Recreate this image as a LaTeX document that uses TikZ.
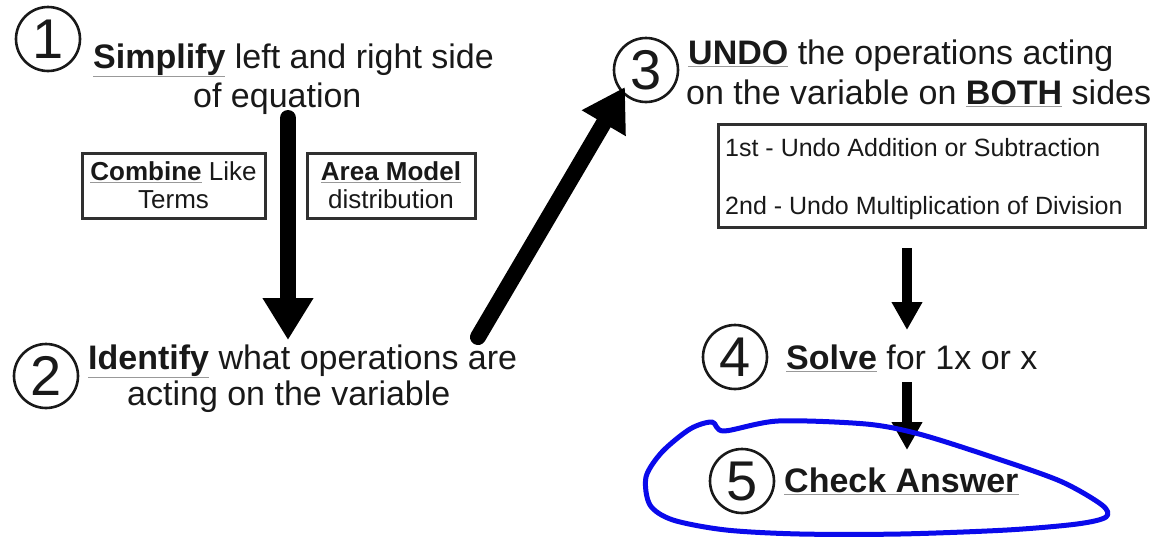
\documentclass[tikz,border=0pt]{standalone}
\usepackage{fontspec}
\setmainfont{Liberation Sans}
\usetikzlibrary{arrows.meta}
\definecolor{pen}{RGB}{10,10,235}
\definecolor{ink}{RGB}{25,25,25}
\newcommand\myul[1]{{\color{black!40}\underline{\color{ink}#1}}}
\begin{document}
\begin{tikzpicture}[x=1pt,y=-1pt,
  num/.style={circle, draw=ink, line width=2.6pt, minimum size=64pt, inner sep=0pt,
    font=\fontsize{56}{56}\selectfont, text=ink},
  big/.style={font=\fontsize{34}{40}\selectfont, anchor=base west, inner sep=0pt, text=ink},
  small/.style={font=\fontsize{25}{28}\selectfont, anchor=base west, inner sep=0pt, text=ink},
  tipbox/.style={draw=ink!90, line width=3pt, inner sep=0pt, align=center,
    font=\fontsize{26}{28}\selectfont, text=ink},
  bigarrow/.style={line width=16pt, line cap=round, draw=black, -{Triangle[width=48pt,length=42pt]}},
  smallarrow/.style={line width=10pt, draw=black, -{Triangle[width=29pt,length=28pt]}}
]
\useasboundingbox (0,0) rectangle (1169,539);

% step 1
\node[num] (c1) at (48,39) {1};
\node[big] (t1a) at (93,68) {\myul{\textbf{Simplify}} left and right side};
\node[big] (t1b) at (193,107) {of equation};
\node[tipbox, minimum width=183pt, minimum height=65pt] (b1) at (173.5,185.5)
  {\myul{\textbf{Combine}} Like\\Terms};
\node[tipbox, minimum width=168pt, minimum height=65pt] (b2) at (391,185.5)
  {\myul{\textbf{Area Model}}\\distribution};

% step 2
\node[num] (c2) at (46,376) {2};
\node[big] (t2a) at (88,369) {\myul{\textbf{Identify}} what operations are};
\node[big] (t2b) at (127,405) {acting on the variable};

% step 3
\node[num] (c3) at (646,70) {3};
\node[big] (t3a) at (688,64) {\myul{\textbf{UNDO}} the operations acting};
\node[big] (t3b) at (686,104) {on the variable on \myul{\textbf{BOTH}} sides};
\node[draw=ink!90, line width=3pt, minimum width=427pt, minimum height=103pt, inner sep=0pt]
  (b3) at (931.5,175.5) {};
\node[small] (t3c) at (725,156) {1st - Undo Addition or Subtraction};
\node[small] (t3d) at (725,214) {2nd - Undo Multiplication of Division};

% step 4
\node[num] (c4) at (735,357) {4};
\node[big] (t4) at (786,369) {\myul{\textbf{Solve}} for 1x or x};

% step 5
\node[num] (c5) at (742,481) {5};
\node[big] (t5) at (784,492) {\myul{\textbf{Check Answer}}};

% connectors
\coordinate (a1s) at (288,118);
\coordinate (a1e) at (288,340);
\coordinate (a2s) at (478,337);
\coordinate (a2e) at (625,87);
\coordinate (a3s) at (907,248);
\coordinate (a3e) at (907,330);
\coordinate (a4s) at (907,382);
\coordinate (a4e) at (907,450);
\draw[bigarrow] (a1s) -- (a1e);
\draw[bigarrow] (a2s) -- (a2e);
\draw[smallarrow] (a3s) -- (a3e);
\draw[smallarrow] (a4s) -- (a4e);

% hand-drawn loop
\draw[pen, line width=5pt, line cap=round, line join=round]
  plot[smooth cycle, tension=0.5] coordinates {
  (778,421) (724,431) (712,422) (690,429) (662,452) (646,477) (650,505) (673,520)
  (726,530) (800,534) (900,534) (1007,530) (1077,524) (1106,517) (1102,505)
  (1060,481) (989,456) (919,434) (866,424)};
\end{tikzpicture}
\end{document}
